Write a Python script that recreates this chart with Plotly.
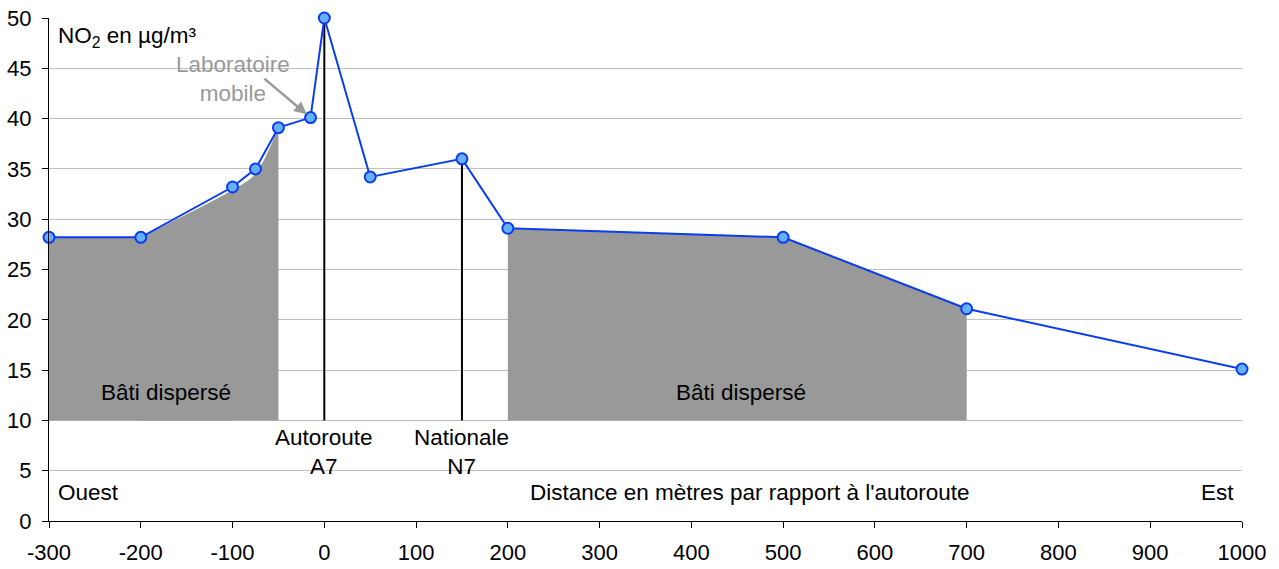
import plotly.graph_objects as go

# Data
distance = [-300, -200, -100, -75, -50, -15, 0, 50, 150, 200, 500, 700, 1000]
no2 = [28.2, 28.2, 33.2, 35.0, 39.1, 40.1, 50.0, 34.2, 36.0, 29.1, 28.2, 21.1, 15.1]

bati_ouest_flat_x = [-300, -100]
bati_ouest_flat_y = [28.2, 28.2]
bati_ouest_curve_x = [-200, -100, -75, -50]
bati_ouest_curve_y = [28.2, 32.9, 34.5, 39.1]
bati_est_x = [200, 500, 700]
bati_est_y = [29.1, 28.2, 21.1]
bati_base = 10

routes_x = [0, 150]
routes_top = [50.0, 36.0]

x_ticks = [-300, -200, -100, 0, 100, 200, 300, 400, 500, 600, 700, 800, 900, 1000]
x_ticklabels = ["-300", "-200", "-100", "0", "100", "200", "300", "400", "500", "600", "700", "800", "900", "1000"]
y_ticks = [0, 5, 10, 15, 20, 25, 30, 35, 40, 45, 50]

FONT = "Liberation Sans, Arial, sans-serif"
GREY = "#999999"

fig = go.Figure()

# Built-up areas (grey fills)
for xs, ys, shape in [(bati_ouest_flat_x, bati_ouest_flat_y, "linear"),
                      (bati_ouest_curve_x, bati_ouest_curve_y, "spline"),
                      (bati_est_x, bati_est_y, "linear")]:
    fig.add_trace(go.Scatter(x=xs, y=[bati_base] * len(xs), mode="lines",
                             line=dict(width=0, color=GREY), hoverinfo="skip", showlegend=False))
    fig.add_trace(go.Scatter(x=xs, y=ys, mode="lines", fill="tonexty", fillcolor=GREY,
                             line=dict(width=0, color=GREY, shape=shape, smoothing=0.8),
                             hoverinfo="skip", showlegend=False))

# Road vertical lines
for rx, rt in zip(routes_x, routes_top):
    fig.add_trace(go.Scatter(x=[rx, rx], y=[bati_base, rt], mode="lines",
                             line=dict(color="black", width=2), hoverinfo="skip", showlegend=False))

# NO2 profile
fig.add_trace(go.Scatter(x=distance, y=no2, mode="lines+markers", cliponaxis=False,
                         line=dict(color="#0a3cf0", width=2),
                         marker=dict(size=11, color="#66b0ff", line=dict(color="#0a3cf0", width=2)),
                         showlegend=False))

ann_font = dict(family=FONT, size=22.5, color="black")
annotations = [
    dict(x=-292, y=48.1, text="NO<sub>2</sub> en µg/m³", xanchor="left", yanchor="middle", showarrow=False, font=ann_font),
    dict(x=-172, y=12.8, text="Bâti dispersé", xanchor="center", yanchor="middle", showarrow=False, font=ann_font),
    dict(x=454, y=12.8, text="Bâti dispersé", xanchor="center", yanchor="middle", showarrow=False, font=ann_font),
    dict(x=0, y=6.9, text="Autoroute<br>A7", xanchor="center", yanchor="middle", showarrow=False, font=ann_font),
    dict(x=150, y=6.9, text="Nationale<br>N7", xanchor="center", yanchor="middle", showarrow=False, font=ann_font),
    dict(x=-292, y=2.8, text="Ouest", xanchor="left", yanchor="middle", showarrow=False, font=ann_font),
    dict(x=464, y=2.8, text="Distance en mètres par rapport à l'autoroute", xanchor="center", yanchor="middle", showarrow=False, font=ann_font),
    dict(x=993, y=2.8, text="Est", xanchor="right", yanchor="middle", showarrow=False, font=ann_font),
    dict(x=-99, y=43.9, text="Laboratoire<br>mobile", xanchor="center", yanchor="middle", showarrow=False,
         font=dict(family=FONT, size=22.5, color=GREY)),
    dict(x=-15, y=40.1, ax=-67, ay=44.1, axref="x", ayref="y", text="",
         showarrow=True, arrowhead=2, arrowsize=1, arrowwidth=2.5, arrowcolor=GREY, standoff=5),
]

fig.update_layout(
    width=1279, height=569,
    margin=dict(l=49, r=37, t=18, b=48, autoexpand=False),
    paper_bgcolor="white", plot_bgcolor="white",
    font=dict(family=FONT, size=22, color="black"),
    annotations=annotations,
    xaxis=dict(range=[-300, 1000], tickvals=x_ticks, ticktext=x_ticklabels, ticks="outside", ticklen=6,
               tickcolor="black", showline=True, linecolor="black", linewidth=1, showgrid=False,
               zeroline=False, automargin=False, ticklabeloverflow="allow", ticklabelstandoff=6,
               tickfont=dict(family=FONT, size=22)),
    yaxis=dict(range=[0, 50], tickvals=y_ticks, ticks="outside", ticklen=6, tickcolor="black",
               showline=True, linecolor="black", linewidth=1, showgrid=True, gridcolor="#c0c0c0",
               gridwidth=1, zeroline=False, automargin=False, ticklabeloverflow="allow", ticklabelstandoff=6,
               tickfont=dict(family=FONT, size=22)),
)

fig.write_html("out.html", config={"displayModeBar": False},
               post_script="document.body.style.margin='0px'; document.body.style.overflow='hidden';")
